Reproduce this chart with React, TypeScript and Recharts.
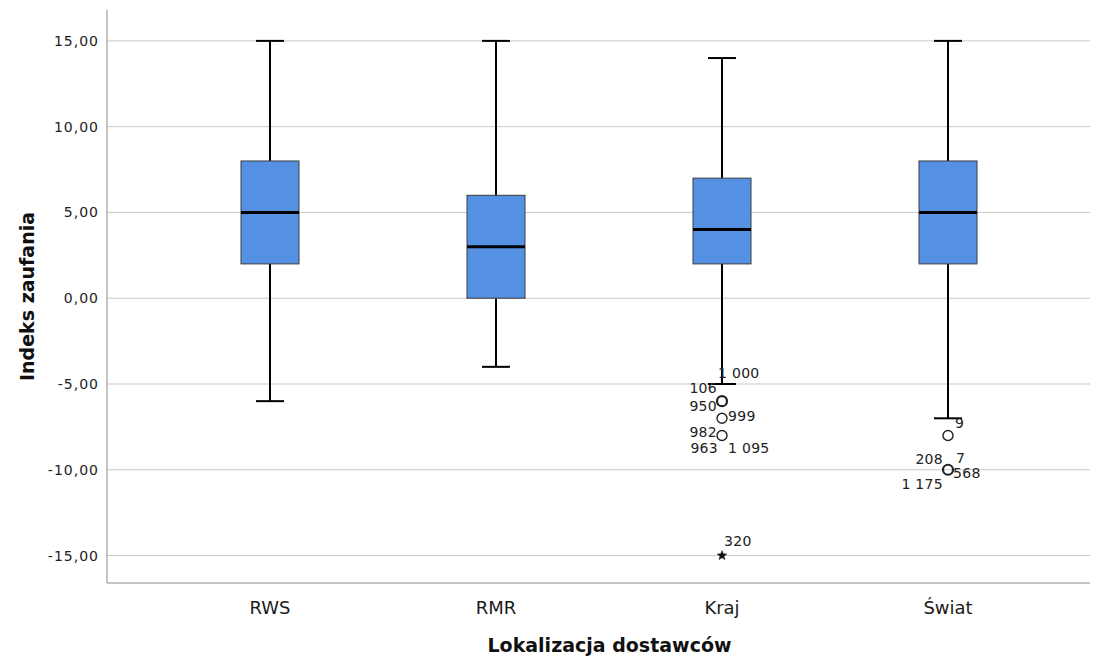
import React from 'react';
import { ComposedChart, Bar, Scatter, XAxis, YAxis, CartesianGrid } from 'recharts';

// ---- data ----
const categories = ['RWS', 'RMR', 'Kraj', 'Świat'];
const mins = [-6, -4, -5, -7];
const q1s = [2, 0, 2, 2];
const medians = [5, 3, 4, 5];
const q3s = [8, 6, 7, 8];
const maxs = [15, 15, 14, 15];
const yTicks = [-15, -10, -5, 0, 5, 10, 15];

const outlierCats = ['Kraj', 'Kraj', 'Kraj', 'Kraj', 'Świat', 'Świat'];
const outlierValues = [-6, -7, -8, -15, -8, -10];
const outlierKinds = ['circle', 'circle', 'circle', 'extreme', 'circle', 'circle'];
const outlierLabels = [
  ['106', '1 000'],
  ['950', '999'],
  ['982', '963', '1 095'],
  ['320'],
  ['9'],
  ['208', '7', '568', '1 175'],
];

// ---- layout / style ----
const outlierStroke = [2.2, 1.4, 1.4, 0, 1.4, 2.2];
const labelOffsets: [number, number, 'start' | 'end'][][] = [
  [[-5, -8, 'end'], [-4, -23, 'start']],
  [[-5, -7, 'end'], [6, 3, 'start']],
  [[-5, 2, 'end'], [-4, 18, 'end'], [6, 18, 'start']],
  [[2, -10, 'start']],
  [[7, -7, 'start']],
  [[-5, -6, 'end'], [8, -7, 'start'], [5, 8, 'start'], [-5, 19, 'end']],
];

const FONT = '"DejaVu Sans", Verdana, sans-serif';
const BOX_FILL = '#5591e3';

const boxData = categories.map((cat, i) => ({
  cat,
  min: mins[i],
  q1: q1s[i],
  med: medians[i],
  q3: q3s[i],
  max: maxs[i],
}));

const outlierData = outlierCats.map((cat, i) => ({
  cat,
  v: outlierValues[i],
  kind: outlierKinds[i],
  labels: outlierLabels[i],
  idx: i,
}));

const fmt = (v: number) => v.toFixed(2).replace('.', ',');

const BoxShape = (props: any) => {
  const { x, y, width, height, payload } = props;
  if (x == null || y == null) return null;
  const { min, q1, med, q3, max } = payload;
  const py = (v: number) => y + (height * (max - v)) / (max - min);
  const cx = x + width / 2;
  const capW = 28;
  const yq3 = py(q3);
  const yq1 = py(q1);
  const ym = py(med);
  const yMax = py(max);
  const yMin = py(min);
  return (
    <g>
      <line x1={cx} x2={cx} y1={yMax} y2={yq3} stroke="#000" strokeWidth={2} />
      <line x1={cx} x2={cx} y1={yq1} y2={yMin} stroke="#000" strokeWidth={2} />
      <line x1={cx - capW / 2} x2={cx + capW / 2} y1={yMax} y2={yMax} stroke="#000" strokeWidth={2} />
      <line x1={cx - capW / 2} x2={cx + capW / 2} y1={yMin} y2={yMin} stroke="#000" strokeWidth={2} />
      <rect x={x} y={yq3} width={width} height={yq1 - yq3} fill={BOX_FILL} stroke="#3c3c3c" strokeWidth={1} />
      <line x1={x} x2={x + width} y1={ym} y2={ym} stroke="#000" strokeWidth={3} />
    </g>
  );
};

const OutlierShape = (props: any) => {
  const { cx, cy, payload } = props;
  if (cx == null || cy == null) return null;
  const i = payload.idx;
  const offs = labelOffsets[i];
  let mark;
  if (payload.kind === 'extreme') {
    const pts: string[] = [];
    for (let k = 0; k < 10; k++) {
      const r = k % 2 === 0 ? 5 : 2.1;
      const a = -Math.PI / 2 + (k * Math.PI) / 5;
      pts.push(`${cx + r * Math.cos(a)},${cy + r * Math.sin(a)}`);
    }
    mark = <polygon points={pts.join(' ')} fill="#111" stroke="#111" strokeWidth={0.5} />;
  } else {
    mark = <circle cx={cx} cy={cy} r={5} fill="none" stroke="#222" strokeWidth={outlierStroke[i]} />;
  }
  return (
    <g>
      {mark}
      {payload.labels.map((t: string, j: number) => (
        <text
          key={j}
          x={cx + offs[j][0]}
          y={cy + offs[j][1]}
          textAnchor={offs[j][2]}
          fontFamily={FONT}
          fontSize={14}
          fill="#222"
          letterSpacing={0.3}
        >
          {t}
        </text>
      ))}
    </g>
  );
};

export default function App() {
  return (
    <div style={{ position: 'absolute', left: 0, top: 0, background: '#fff' }}>
      <ComposedChart
        width={1101}
        height={658}
        data={boxData}
        margin={{ top: 10, right: 11, bottom: 0, left: 0 }}
        barGap={0}
      >
        <CartesianGrid vertical={false} horizontal={true} syncWithTicks stroke="#c8c8c8" strokeWidth={1} />
        <XAxis
          dataKey="cat"
          type="category"
          allowDuplicatedCategory={false}
          padding={{ left: 50, right: 29 }}
          height={75}
          tickLine={false}
          tickMargin={12}
          axisLine={{ stroke: '#8a8a8a', strokeWidth: 1 }}
          tick={{ fontFamily: FONT, fontSize: 18, fill: '#1a1a1a' }}
          label={{
            value: 'Lokalizacja dostawców',
            position: 'insideBottom',
            offset: 6,
            dx: 11,
            style: { fontFamily: FONT, fontSize: 19, fontWeight: 'bold', fill: '#111' },
          }}
        />
        <YAxis
          type="number"
          width={107}
          domain={[-16.6, 16.8]}
          ticks={yTicks}
          tickFormatter={fmt}
          tickLine={false}
          axisLine={{ stroke: '#8a8a8a', strokeWidth: 1 }}
          tick={{ fontFamily: FONT, fontSize: 14, fill: '#222', letterSpacing: 1 }}
          label={{
            value: 'Indeks zaufania',
            angle: -90,
            position: 'insideLeft',
            offset: 27,
            style: { fontFamily: FONT, fontSize: 19, fontWeight: 'bold', fill: '#111', textAnchor: 'middle' },
          }}
        />
        <Bar
          dataKey={(d: any) => [d.min, d.max]}
          barSize={58}
          shape={BoxShape}
          isAnimationActive={false}
        />
        <Scatter
          data={outlierData}
          dataKey="v"
          shape={OutlierShape}
          isAnimationActive={false}
        />
      </ComposedChart>
    </div>
  );
}
